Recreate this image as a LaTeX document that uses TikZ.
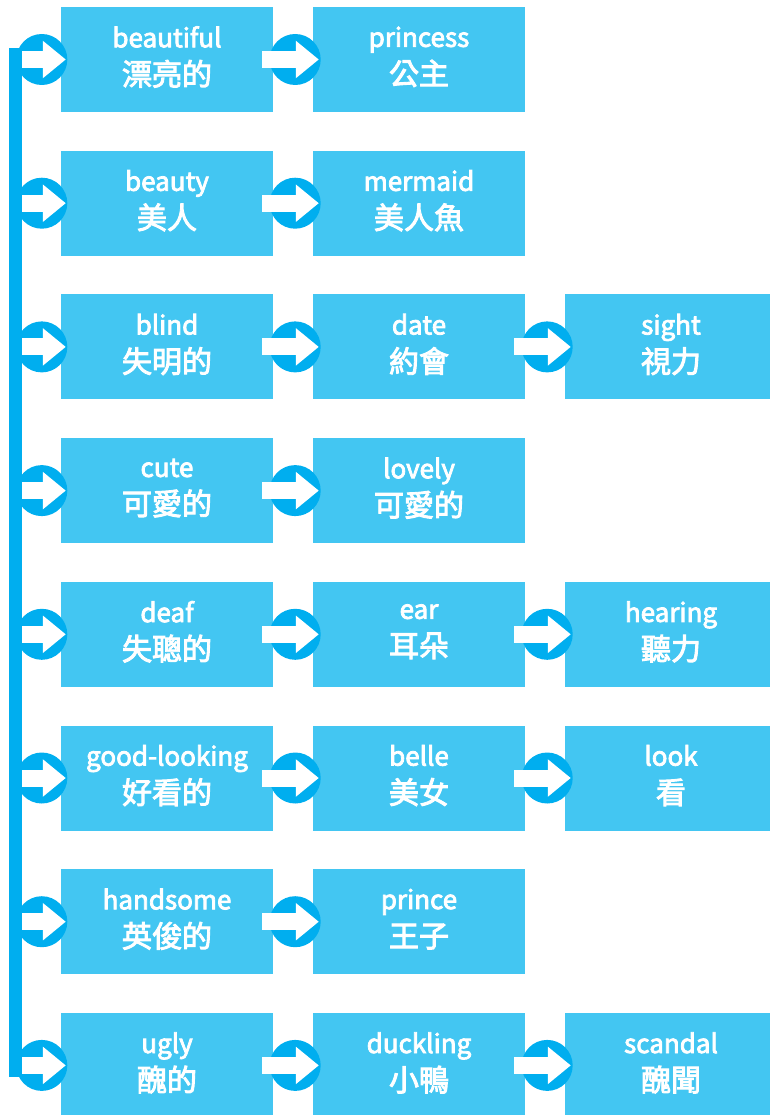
\documentclass[tikz,border=0pt]{standalone}
\usepackage{fontspec}
\setmainfont{Noto Sans CJK TC}
\newfontfamily\boxfont[FakeBold=3]{Noto Sans CJK TC}
\usetikzlibrary{arrows.meta}
\definecolor{boxblue}{RGB}{67,198,242}
\definecolor{ringblue}{RGB}{0,174,239}
\newcommand{\entry}[2]{#1\\{\fontsize{30}{38}\selectfont #2\rule[-7.5pt]{0pt}{0pt}}}
\newcommand{\link}[3]{\node[ring] (#3) at ([xshift=22pt]#1.east) {};
\draw[push] ([xshift=-11pt]#1.east) -- ([xshift=6pt]#2.west);}
\newcommand{\feed}[3]{\node[ring] (#3) at ([xshift=-19pt]#2.west) {};
\draw[push] (#1) -- ([xshift=5pt]#2.west);}

\begin{document}
\begin{tikzpicture}[x=1pt,y=-1pt,
  word/.style={fill=boxblue, text=white, minimum width=212pt, minimum height=105pt, inner sep=0pt, align=center, font=\boxfont\fontsize{26}{38}\selectfont},
  ring/.style={circle, fill=ringblue, minimum size=51pt, inner sep=0pt},
  push/.style={white, line width=17pt, -{Triangle[width=36pt,length=23pt]}}]
\useasboundingbox (0,0) rectangle (770,1115);
\clip (0,0) rectangle (770,1115);
% word boxes
\node[word] (a1) at (167,59.5) {\entry{beautiful}{漂亮的}};
\node[word] (a2) at (419,59.5) {\entry{princess}{公主}};
\node[word] (b1) at (167,203.2) {\entry{beauty}{美人}};
\node[word] (b2) at (419,203.2) {\entry{mermaid}{美人魚}};
\node[word] (c1) at (167,346.9) {\entry{blind}{失明的}};
\node[word] (c2) at (419,346.9) {\entry{date}{約會}};
\node[word] (c3) at (671,346.9) {\entry{sight}{視力}};
\node[word] (d1) at (167,490.6) {\entry{cute}{可愛的}};
\node[word] (d2) at (419,490.6) {\entry{lovely}{可愛的}};
\node[word] (e1) at (167,634.3) {\entry{deaf}{失聰的}};
\node[word] (e2) at (419,634.3) {\entry{ear}{耳朵}};
\node[word] (e3) at (671,634.3) {\entry{hearing}{聽力}};
\node[word] (f1) at (167,778) {\entry{good-looking}{好看的}};
\node[word] (f2) at (419,778) {\entry{belle}{美女}};
\node[word] (f3) at (671,778) {\entry{look}{看}};
\node[word] (g1) at (167,921.7) {\entry{handsome}{英俊的}};
\node[word] (g2) at (419,921.7) {\entry{prince}{王子}};
\node[word] (h1) at (167,1065.4) {\entry{ugly}{醜的}};
\node[word] (h2) at (419,1065.4) {\entry{duckling}{小鴨}};
\node[word] (h3) at (671,1065.4) {\entry{scandal}{醜聞}};
% left bar
\coordinate (top) at (15.5,48);
\coordinate (bottom) at (15.5,1077);
\draw[ringblue, line width=13pt] (top) -- (bottom);
\foreach \r/\y in {a/59.5,b/203.2,c/346.9,d/490.6,e/634.3,f/778,g/921.7,h/1065.4}
  \coordinate (s\r) at (22,\y);
% arrows
\feed{sa}{a1}{ra0} \link{a1}{a2}{ra1}
\feed{sb}{b1}{rb0} \link{b1}{b2}{rb1}
\feed{sc}{c1}{rc0} \link{c1}{c2}{rc1} \link{c2}{c3}{rc2}
\feed{sd}{d1}{rd0} \link{d1}{d2}{rd1}
\feed{se}{e1}{re0} \link{e1}{e2}{re1} \link{e2}{e3}{re2}
\feed{sf}{f1}{rf0} \link{f1}{f2}{rf1} \link{f2}{f3}{rf2}
\feed{sg}{g1}{rg0} \link{g1}{g2}{rg1}
\feed{sh}{h1}{rh0} \link{h1}{h2}{rh1} \link{h2}{h3}{rh2}
\end{tikzpicture}
\end{document}
